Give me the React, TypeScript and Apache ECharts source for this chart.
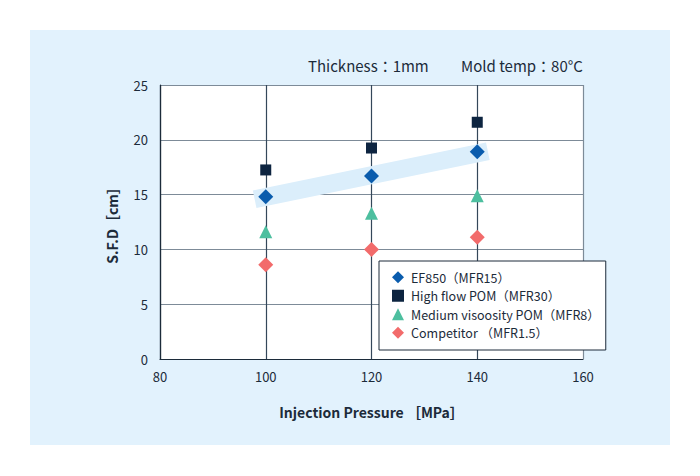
import React, { useEffect, useRef } from "react";
import * as echarts from "echarts";

const pressures = [100, 120, 140];
const ef850 = [14.8, 16.7, 18.9];
const highFlow = [17.25, 19.25, 21.6];
const mediumVisc = [11.6, 13.3, 14.9];
const competitor = [8.6, 10.0, 11.1];
const bandX = [97.9, 142.0];
const bandY = [14.58, 18.95];
const seriesNames = [
  "EF850（MFR15）",
  "High flow POM（MFR30）",
  "Medium visoosity POM（MFR8）",
  "Competitor （MFR1.5）",
];

const FONT = "'Noto Sans CJK JP', 'Noto Sans', sans-serif";
const TEXT = "#1c2b3a";

export default function App() {
  const ref = useRef<HTMLDivElement>(null);
  useEffect(() => {
    document.body.style.margin = "0";
    const chart = echarts.init(ref.current!, null, { renderer: "svg" });
    const pts = (ys: number[]) => pressures.map((x, i) => [x, ys[i]]);
    chart.setOption({
      animation: false,
      backgroundColor: "#ffffff",
      textStyle: { fontFamily: FONT, color: TEXT },
      graphic: [
        {
          type: "rect",
          z: -10,
          silent: true,
          shape: { x: 30, y: 30, width: 640, height: 415 },
          style: { fill: "#e2f2fd" },
        },
        {
          type: "rect",
          z: -9,
          silent: true,
          shape: { x: 160, y: 85, width: 423, height: 274 },
          style: { fill: "#ffffff" },
        },
        {
          type: "text",
          x: 308,
          y: 58,
          style: { text: "Thickness：1mm", fill: TEXT, font: `15px ${FONT}` },
        },
        {
          type: "text",
          x: 461,
          y: 58,
          style: { text: "Mold temp：80°C", fill: TEXT, font: `15px ${FONT}` },
        },
      ],
      grid: { left: 160, top: 85, width: 423, height: 274, containLabel: false },
      xAxis: {
        type: "value",
        min: 80,
        max: 160,
        interval: 20,
        name: "Injection Pressure ［MPa］",
        nameLocation: "middle",
        nameGap: 46,
        nameTextStyle: { fontFamily: FONT, fontSize: 14, fontWeight: "bold", color: TEXT },
        axisLine: { show: true, lineStyle: { color: "#1c2b3a", width: 1.2 } },
        axisTick: { show: false },
        axisLabel: { color: TEXT, fontSize: 13, margin: 11, fontFamily: FONT },
        splitLine: {
          show: true,
          lineStyle: { color: ["#1c2b3a", "#34475a", "#34475a", "#34475a", "#7d8b98"], width: 1.2 },
        },
      },
      yAxis: {
        type: "value",
        min: 0,
        max: 25,
        interval: 5,
        name: "S.F.D［cm］",
        nameLocation: "middle",
        nameGap: 41,
        nameRotate: 90,
        nameTextStyle: { fontFamily: FONT, fontSize: 14, fontWeight: "bold", color: TEXT },
        axisLine: { show: true, lineStyle: { color: "#1c2b3a", width: 1.2 } },
        axisTick: { show: false },
        axisLabel: { color: TEXT, fontSize: 13, margin: 12, fontFamily: FONT },
        splitLine: { show: true, lineStyle: { color: "#7d8b98", width: 1.2 } },
      },
      legend: {
        orient: "vertical",
        left: 379,
        top: 261,
        padding: [10, 6, 11, 13],
        itemGap: 6,
        itemWidth: 12,
        itemHeight: 12,
        backgroundColor: "#ffffff",
        borderColor: "#1c2b3a",
        borderWidth: 1,
        borderRadius: 0,
        textStyle: { fontFamily: FONT, fontSize: 12.5, color: TEXT, padding: [0, 0, 0, 2] },
        data: [
          { name: seriesNames[0], icon: "diamond" },
          { name: seriesNames[1], icon: "path://M2,2L10,2L10,10L2,10Z" },
          { name: seriesNames[2], icon: "triangle" },
          { name: seriesNames[3], icon: "diamond" },
        ],
      },
      series: [
        {
          type: "line",
          name: "band",
          silent: true,
          symbol: "none",
          data: bandX.map((x, i) => [x, bandY[i]]),
          lineStyle: { color: "#dbeefb", width: 18, cap: "butt" },
          z: 1,
        },
        {
          type: "scatter",
          name: seriesNames[1],
          symbol: "rect",
          symbolSize: 11,
          itemStyle: { color: "#0d2440", opacity: 1 },
          data: pts(highFlow),
          z: 3,
        },
        {
          type: "scatter",
          name: seriesNames[0],
          symbol: "diamond",
          symbolSize: 15,
          itemStyle: { color: "#0a5cad", opacity: 1 },
          data: pts(ef850),
          z: 3,
        },
        {
          type: "scatter",
          name: seriesNames[2],
          symbol: "triangle",
          symbolSize: 13,
          itemStyle: { color: "#4dbf9f", opacity: 1 },
          data: pts(mediumVisc),
          z: 3,
        },
        {
          type: "scatter",
          name: seriesNames[3],
          symbol: "diamond",
          symbolSize: 15,
          itemStyle: { color: "#f26b6b", opacity: 1 },
          data: pts(competitor),
          z: 3,
        },
      ],
    });
    return () => chart.dispose();
  }, []);
  return <div ref={ref} style={{ width: 700, height: 476 }} />;
}
